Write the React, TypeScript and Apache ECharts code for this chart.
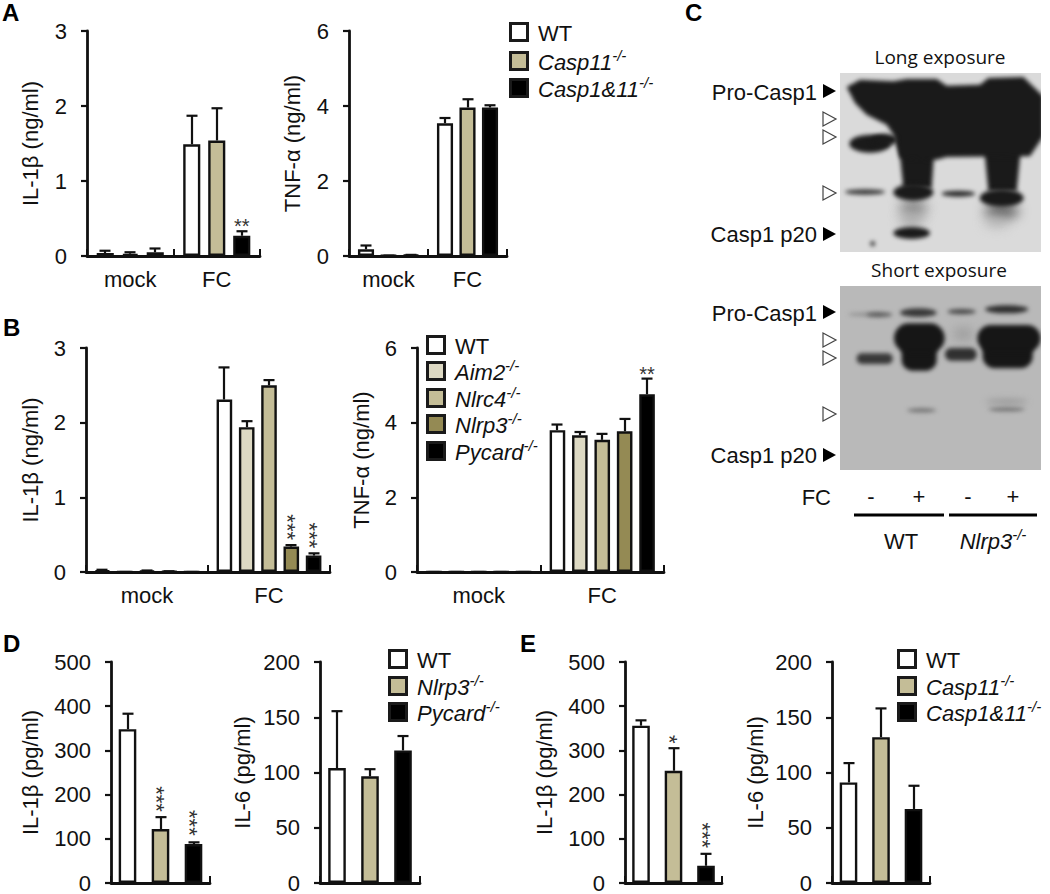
import React, { useEffect, useRef } from "react";
import * as echarts from "echarts";

// ---- data ----
const mockFC = ["mock", "FC"];
const stimOnly = ["FC"];

const genoA = ["WT", "Casp11", "Casp1&11"];
const genoB = ["WT", "Aim2", "Nlrc4", "Nlrp3", "Pycard"];
const genoD = ["WT", "Nlrp3", "Pycard"];
const genoE = ["WT", "Casp11", "Casp1&11"];

const colorsThree = ["#ffffff", "#c4bd97", "#000000"];
const colorsFive = ["#ffffff", "#ddd9c3", "#c4bd97", "#948a54", "#000000"];

// each inner list: one genotype, one value per category
const aIl1bMean = [[0.04, 1.49], [0.03, 1.54], [0.05, 0.27]];
const aIl1bTop = [[0.07, 1.87], [0.05, 1.97], [0.1, 0.33]];
const aTnfMean = [[0.18, 3.54], [0.01, 3.96], [0.03, 3.96]];
const aTnfTop = [[0.28, 3.68], [0.01, 4.18], [0.03, 4.02]];

const bIl1bMean = [[0.02, 2.31], [0, 1.94], [0.015, 2.5], [0.008, 0.34], [0, 0.22]];
const bIl1bTop = [[0.03, 2.74], [0, 2.02], [0.02, 2.57], [0.01, 0.36], [0, 0.25]];
const bTnfMean = [[0, 3.8], [0, 3.66], [0, 3.54], [0, 3.77], [0, 4.76]];
const bTnfTop = [[0, 3.95], [0, 3.75], [0, 3.7], [0, 4.1], [0, 5.18]];

const dIl1bMean = [[348], [122], [88]];
const dIl1bTop = [[383], [149], [92]];
const dIl6Mean = [[104], [96.5], [120]];
const dIl6Top = [[155.5], [103], [133]];

const eIl1bMean = [[356], [254], [39]];
const eIl1bTop = [[368], [305], [66]];
const eIl6Mean = [[91], [132], [67]];
const eIl6Top = [[108.5], [158], [88]];

// significance marks: [category, genotype, value at centre of the mark, text]
const aIl1bStars: any[] = [[1, 2, 0.46, "**"]];
const bIl1bStars: any[] = [[1, 3, 0.6, "***"], [1, 4, 0.49, "***"]];
const bTnfStars: any[] = [[1, 4, 5.4, "**"]];
const dIl1bStars: any[] = [[0, 1, 190, "***"], [0, 2, 136, "***"]];
const eIl1bStars: any[] = [[0, 1, 325, "*"], [0, 2, 108, "***"]];

const FONT = "Liberation Sans";
const INK = "#111111";

const panels: any[] = [
  { left: 87, right: 260, top: 31, h: 225, cats: mockFC, names: genoA, colors: colorsThree, mean: aIl1bMean, tops: aIl1bTop, stars: aIl1bStars, max: 3, step: 1, title: "IL-1β (ng/ml)", gap: 46, bar: 19.5, pitch: 25 },
  { left: 349, right: 507, top: 31, h: 225, cats: mockFC, names: genoA, colors: colorsThree, mean: aTnfMean, tops: aTnfTop, stars: [], max: 6, step: 2, title: "TNF-α (ng/ml)", gap: 46, bar: 18.5, pitch: 22.5 },
  { left: 86, right: 330, top: 348, h: 224, cats: mockFC, names: genoB, colors: colorsFive, mean: bIl1bMean, tops: bIl1bTop, stars: bIl1bStars, max: 3, step: 1, title: "IL-1β (ng/ml)", gap: 45, bar: 18, pitch: 22.3 },
  { left: 417, right: 664, top: 348, h: 224, cats: mockFC, names: genoB, colors: colorsFive, mean: bTnfMean, tops: bTnfTop, stars: bTnfStars, max: 6, step: 2, title: "TNF-α (ng/ml)", gap: 45, bar: 18, pitch: 22.4 },
  { left: 111, right: 210, top: 662, h: 225, cats: stimOnly, names: genoD, colors: colorsThree, mean: dIl1bMean, tops: dIl1bTop, stars: dIl1bStars, max: 500, step: 100, title: "IL-1β (pg/ml)", gap: 70, bar: 20, pitch: 33 },
  { left: 320, right: 420, top: 662, h: 225, cats: stimOnly, names: genoD, colors: colorsThree, mean: dIl6Mean, tops: dIl6Top, stars: [], max: 200, step: 50, title: "IL-6 (pg/ml)", gap: 67, bar: 20, pitch: 33 },
  { left: 625, right: 722, top: 662, h: 225, cats: stimOnly, names: genoE, colors: colorsThree, mean: eIl1bMean, tops: eIl1bTop, stars: eIl1bStars, max: 500, step: 100, title: "IL-1β (pg/ml)", gap: 70, bar: 20, pitch: 32.5 },
  { left: 832, right: 930, top: 662, h: 225, cats: stimOnly, names: genoE, colors: colorsThree, mean: eIl6Mean, tops: eIl6Top, stars: [], max: 200, step: 50, title: "IL-6 (pg/ml)", gap: 66, bar: 20, pitch: 32.5 },
];

// ---- option building ----
function buildOption() {
  const grid: any[] = [], xAxis: any[] = [], yAxis: any[] = [], series: any[] = [];
  panels.forEach((p, i) => {
    grid.push({ left: p.left, top: p.top, width: p.right - p.left, height: p.h });
    xAxis.push({
      type: "category", gridIndex: i, data: p.cats,
      axisLine: { lineStyle: { color: INK, width: 2.8 } },
      axisTick: { show: true, inside: true, length: 7, lineStyle: { color: INK, width: 2 } },
      axisLabel: { show: p.cats.length > 1, fontFamily: FONT, fontSize: 22, color: INK, margin: 12 },
    });
    yAxis.push({
      type: "value", gridIndex: i, min: 0, max: p.max, interval: p.step,
      name: p.title, nameLocation: "middle", nameGap: p.gap, nameRotate: 90,
      nameTextStyle: { fontFamily: FONT, fontSize: 22, color: INK },
      axisLine: { show: true, lineStyle: { color: INK, width: 2.8 } },
      axisTick: { show: true, length: 6, lineStyle: { color: INK, width: 2.2 } },
      axisLabel: { fontFamily: FONT, fontSize: 22, color: INK, margin: 20 },
      splitLine: { show: false },
    });
    const n = p.names.length;
    const inner = p.bar - 2.4;
    const offset = (s: number) => (s - (n - 1) / 2) * p.pitch;
    p.names.forEach((name: string, s: number) => {
      series.push({
        type: "bar", name, xAxisIndex: i, yAxisIndex: i,
        data: p.mean[s], barWidth: inner, barGap: `${((p.pitch - inner) / inner) * 100}%`,
        itemStyle: { color: p.colors[s], borderColor: INK, borderWidth: 2.4 },
      });
    });
    const errData: any[] = [];
    p.mean.forEach((row: number[], s: number) =>
      row.forEach((m, c) => errData.push([c, p.tops[s][c], m, s]))
    );
    series.push({
      type: "custom", coordinateSystem: "cartesian2d", xAxisIndex: i, yAxisIndex: i, z: 1,
      data: errData,
      renderItem: (_: any, api: any) => {
        const s = api.value(3);
        const top = api.coord([api.value(0), api.value(1)]);
        const base = api.coord([api.value(0), api.value(2)]);
        const x = Math.round(top[0] + offset(s));
        const style = { stroke: INK, lineWidth: 2.2, fill: "none" };
        return {
          type: "group",
          children: [
            { type: "line", shape: { x1: x, y1: top[1], x2: x, y2: base[1] }, style },
            { type: "line", shape: { x1: x - 5.5, y1: top[1], x2: x + 5.5, y2: top[1] }, style },
          ],
        };
      },
    });
    if (p.stars.length) {
      series.push({
        type: "custom", coordinateSystem: "cartesian2d", xAxisIndex: i, yAxisIndex: i, z: 3,
        data: p.stars.map((m: any[], k: number) => [m[0], m[2], m[1], k]),
        renderItem: (_: any, api: any) => {
          const at = api.coord([api.value(0), api.value(1)]);
          const text = p.stars[api.value(3)][3];
          const upright = text.length < 3 && text.length > 1;
          const x = at[0] + offset(api.value(2));
          return {
            type: "text",
            x: upright ? x : x - 4,
            y: upright ? at[1] + 4 : at[1],
            rotation: upright ? 0 : -Math.PI / 2,
            style: { text, fontFamily: FONT, fontSize: upright ? 20 : 22, fill: "#333333", align: "center", verticalAlign: "middle" },
          };
        },
      });
    }
  });
  return { animation: false, backgroundColor: "#ffffff", grid, xAxis, yAxis, series, graphic: { elements: buildGraphics() } };
}

// ---- legends, letters, blot annotations ----
const richGeno = {
  i: { fontFamily: FONT, fontSize: 22, fontStyle: "italic", fill: INK, lineHeight: 28 },
  n: { fontFamily: FONT, fontSize: 22, fill: INK, lineHeight: 28 },
  s: { fontFamily: FONT, fontSize: 15, fontStyle: "italic", fill: INK, verticalAlign: "top", lineHeight: 28 },
};
const geno = (name: string) => `{i|${name}}{s|-/-}`;

function label(text: string, x: number, y: number, extra: any = {}) {
  return {
    type: "text", x, y,
    style: { text, fontFamily: FONT, fontSize: 22, fill: INK, align: "left", verticalAlign: "middle", ...extra },
  };
}

function legend(x: number, textX: number, ys: number[], names: string[], colors: string[]) {
  const out: any[] = [];
  names.forEach((name, k) => {
    out.push({ type: "rect", shape: { x: x + 1.5, y: ys[k] - 8.5, width: 17, height: 17 }, style: { fill: colors[k], stroke: "#1a1a1a", lineWidth: 3 } });
    out.push(name === "WT" ? label("WT", textX, ys[k] + 1) : label(geno(name), textX, ys[k] + 1, { rich: richGeno }));
  });
  return out;
}

function tri(x: number, y: number, filled: boolean) {
  return {
    type: "polygon",
    shape: { points: [[x, y - 7], [x + 13, y], [x, y + 7]] },
    style: filled ? { fill: "#000000" } : { fill: "#ffffff", stroke: "#444444", lineWidth: 1.2 },
  };
}

function drawBlot(w: number, h: number, originX: number, originY: number, bg: string, blur: number, draw: (c: CanvasRenderingContext2D) => void) {
  const cv = document.createElement("canvas");
  cv.width = w; cv.height = h;
  const c = cv.getContext("2d")!;
  c.fillStyle = bg; c.fillRect(0, 0, w, h);
  (c as any).filter = `blur(${blur}px)`;
  c.scale(1 / 3, 1 / 3);
  c.translate(-originX, -originY);
  draw(c);
  return cv.toDataURL("image/png");
}
const ell = (c: CanvasRenderingContext2D, x: number, y: number, rx: number, ry: number, col: string) => {
  c.fillStyle = col; c.beginPath(); c.ellipse(x, y, rx, ry, 0, 0, Math.PI * 2); c.fill();
};
const poly = (c: CanvasRenderingContext2D, pts: number[][], col: string) => {
  c.fillStyle = col; c.beginPath();
  pts.forEach((p, k) => (k ? c.lineTo(p[0], p[1]) : c.moveTo(p[0], p[1])));
  c.closePath(); c.fill();
};
const rr = (c: CanvasRenderingContext2D, x: number, y: number, w: number, h: number, r: number, col: string) => {
  c.fillStyle = col; c.beginPath(); (c as any).roundRect(x, y, w, h, r); c.fill();
};
const soft = (c: CanvasRenderingContext2D, px: number, fn: () => void, back: number) => {
  (c as any).filter = `blur(${px}px)`; fn(); (c as any).filter = `blur(${back}px)`;
};

function longBlot() {
  const K = "#1a1a1a";
  return drawBlot(201, 179, 480, 220, "#dadada", 2.2, (c) => {
    soft(c, 6, () => {
      ell(c, 700, 625, 42, 26, "#8a8a8a");
      ell(c, 695, 662, 36, 18, "#a8a8a8");
      ell(c, 965, 635, 52, 22, "#5a5a5a");
      ell(c, 950, 668, 36, 14, "#b4b4b4");
    }, 2.2);
    poly(c, [[655, 420], [765, 420], [755, 565], [670, 565]], K);
    poly(c, [[910, 420], [1025, 420], [1010, 575], [925, 575]], K);
    poly(c, [[500, 262], [540, 240], [640, 245], [680, 238], [770, 238], [800, 258], [900, 255], [925, 235], [1030, 232], [1090, 290], [1090, 410], [1050, 470], [800, 472], [770, 480], [660, 475], [640, 405], [620, 375], [560, 345], [525, 310]], K);
    ell(c, 570, 432, 62, 27, K);
    ell(c, 612, 420, 40, 18, K);
    ell(c, 700, 578, 60, 25, K);
    ell(c, 555, 577, 60, 8, "#3a3a3a");
    ell(c, 835, 582, 50, 9, "#2a2a2a");
    ell(c, 695, 700, 55, 18, K);
    ell(c, 965, 595, 66, 26, K);
    ell(c, 578, 732, 7, 7, "#222");
  });
}

function shortBlot() {
  const K = "#161616";
  return drawBlot(201, 184, 480, 78, "#b9b9b9", 2, (c) => {
    ell(c, 555, 163, 50, 5, "#8c8c8c");
    ell(c, 598, 164, 38, 7, "#5a5a5a");
    ell(c, 715, 158, 55, 13, "#383838");
    ell(c, 845, 155, 42, 8, "#484848");
    ell(c, 980, 148, 65, 12, "#2e2e2e");
    rr(c, 530, 280, 108, 32, 15, "#383838");
    soft(c, 6, () => ell(c, 850, 222, 30, 18, "#989898"), 2);
    rr(c, 795, 264, 95, 38, 18, "#303030");
    rr(c, 665, 240, 105, 92, 32, K);
    rr(c, 908, 230, 150, 95, 36, K);
    rr(c, 642, 190, 152, 88, 44, K);
    rr(c, 892, 195, 190, 80, 40, K);
    ell(c, 725, 451, 44, 6, "#707070");
    ell(c, 980, 448, 55, 6, "#707070");
    soft(c, 3, () => ell(c, 980, 425, 62, 7, "#949494"), 2);
  });
}

function buildGraphics() {
  const els: any[] = [];
  // panel letters
  [["A", 2, 12], ["B", 3, 327], ["C", 685, 12], ["D", 3, 643], ["E", 520, 643]].forEach((l: any) =>
    els.push(label(l[0], l[1], l[2], { fontWeight: "bold", fontSize: 24, fill: "#000" }))
  );
  // legends
  els.push(...legend(509, 538, [32, 61, 88], genoA, colorsThree));
  els.push(...legend(426, 455, [345, 371, 398, 424, 451], genoB, colorsFive));
  els.push(...legend(388, 417, [659, 686, 712], genoD, colorsThree));
  els.push(...legend(897, 926, [659, 686, 712], genoE, colorsThree));
  // blots
  els.push({ type: "image", x: 840, y: 73, style: { image: longBlot(), width: 201, height: 179 } });
  els.push({ type: "image", x: 840, y: 286, style: { image: shortBlot(), width: 201, height: 184 } });
  els.push(label("Long exposure", 940, 57, { align: "center", fontFamily: "Open Sans", fontSize: 19 }));
  els.push(label("Short exposure", 939, 270, { align: "center", fontFamily: "Open Sans", fontSize: 19 }));
  [[92, "Pro-Casp1"], [234, "Casp1 p20"], [313, "Pro-Casp1"], [455, "Casp1 p20"]].forEach((t: any) =>
    els.push(label(t[1], 817, t[0], { align: "right" }))
  );
  [91, 234, 312, 455].forEach((y) => els.push(tri(823, y, true)));
  [119, 137, 193, 340, 358, 414].forEach((y) => els.push(tri(823, y, false)));
  els.push(label("FC", 831, 497, { align: "right" }));
  [[871, "-"], [919, "+"], [968, "-"], [1013, "+"]].forEach((t: any) =>
    els.push(label(t[1], t[0], 496, { align: "center" }))
  );
  els.push({ type: "line", shape: { x1: 854, y1: 515, x2: 944, y2: 515 }, style: { stroke: "#000", lineWidth: 3 } });
  els.push({ type: "line", shape: { x1: 949, y1: 515, x2: 1037, y2: 515 }, style: { stroke: "#000", lineWidth: 3 } });
  els.push(label("WT", 901, 541, { align: "center" }));
  els.push(label(geno("Nlrp3"), 993, 541, { align: "center", rich: richGeno }));
  return els;
}

export default function App() {
  const ref = useRef<HTMLDivElement>(null);
  useEffect(() => {
    document.body.style.margin = "0";
    const chart = echarts.init(ref.current!, undefined, { renderer: "svg" });
    chart.setOption(buildOption() as any);
    return () => chart.dispose();
  }, []);
  return <div ref={ref} style={{ width: 1050, height: 894 }} />;
}
